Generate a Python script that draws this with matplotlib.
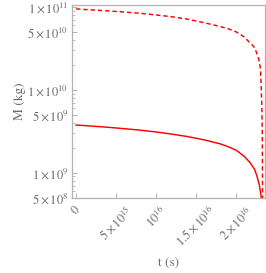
import matplotlib
matplotlib.use("Agg")
import matplotlib.pyplot as plt
import numpy as np

# Data (t in seconds, M in kg)
t_solid = [0, 2e15, 4e15, 6e15, 8e15, 10e15, 12e15, 14e15, 16e15, 18e15, 19e15,
           20e15, 21e15, 21.75e15, 22.3e15, 22.6e15, 22.9e15, 23.1e15, 23.2e15, 23.3e15]
M_solid = [3.76e9, 3.65e9, 3.53e9, 3.40e9, 3.26e9, 3.10e9, 2.92e9, 2.72e9, 2.49e9, 2.23e9, 2.06e9,
           1.87e9, 1.58e9, 1.32e9, 1.10e9, 0.91e9, 0.71e9, 0.54e9, 0.42e9, 0.1e9]

t_dashed = [0, 2e15, 4e15, 6e15, 8e15, 10e15, 12e15, 14e15, 16e15, 18e15, 19e15,
            20e15, 21e15, 21.6e15, 22.2e15, 22.5e15, 22.8e15, 23.0e15, 23.05e15, 23.12e15,
            23.2e15, 23.27e15, 23.31e15]
M_dashed = [9.46e10, 9.2e10, 8.95e10, 8.68e10, 8.38e10, 8.0e10, 7.6e10, 7.1e10, 6.45e10, 5.8e10, 5.45e10,
            5.0e10, 4.35e10, 3.8e10, 3.33e10, 2.9e10, 2.41e10, 1.9e10, 1.7e10, 1.2e10,
            0.7e10, 0.3e10, 0.04e10]

x_ticks = [0, 5e15, 1e16, 1.5e16, 2e16]
x_ticklabels = [r"$0$", r"$5\times10^{15}$", r"$10^{16}$", r"$1.5\times10^{16}$", r"$2\times10^{16}$"]
y_ticks = [5e8, 1e9, 5e9, 1e10, 5e10, 1e11]
y_ticklabels = [r"$5\times10^{8}$", r"$1\times10^{9}$", r"$5\times10^{9}$",
                r"$1\times10^{10}$", r"$5\times10^{10}$", r"$1\times10^{11}$"]

plt.rcParams['mathtext.fontset'] = 'stix'
plt.rcParams['font.family'] = ['STIXGeneral', 'DejaVu Serif']

spine_col = '#b3b3b3'
text_col = '#6b6b6b'

fig = plt.figure(figsize=(2.66, 2.73), dpi=100)
ax = fig.add_axes([0.272, 0.276, 0.724, 0.706])

ax.plot(t_dashed, M_dashed, color='#ff0000', lw=1.05, dashes=(3, 2))
ax.plot(t_solid, M_solid, color='#ff0000', lw=1.05)

ax.set_yscale('log')
ax.set_xlim(-0.46e15, 23.6e15)
ax.set_ylim(5e8, 1.057e11)

ax.set_xticks(x_ticks)
ax.set_xticklabels(x_ticklabels, rotation=45, ha='center', va='top')
ax.set_yticks(y_ticks)
ax.set_yticklabels(y_ticklabels)
minor = []
for d in [1e8, 1e9, 1e10]:
    for m in [2, 3, 4, 6, 7, 8, 9]:
        v = m * d
        if 5e8 < v < 1.057e11:
            minor.append(v)
ax.set_yticks(minor, minor=True)
ax.set_yticklabels([], minor=True)
ax.xaxis.set_minor_locator(matplotlib.ticker.NullLocator())

for s in ax.spines.values():
    s.set_color(spine_col)
    s.set_linewidth(0.9)

ax.tick_params(axis='both', which='major', direction='in', length=3.5, width=0.7,
               color=spine_col, labelcolor=text_col, labelsize=9)
ax.tick_params(axis='both', which='minor', direction='in', length=2, width=0.6, color=spine_col)
ax.tick_params(axis='x', which='major', pad=4)
ax.tick_params(axis='y', which='major', pad=3)

ax.set_ylabel("M (kg)", color=text_col, fontsize=9.5, labelpad=1)
ax.set_xlabel("t (s)", color=text_col, fontsize=9.5, labelpad=6)

fig.savefig("out.png", dpi=100)
